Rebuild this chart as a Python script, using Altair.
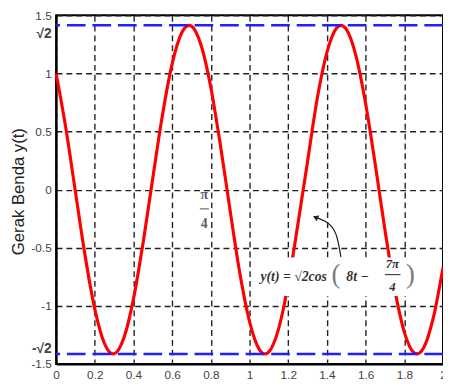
import altair as alt
import pandas as pd

# curve samples
t_vals = [0.0, 0.05, 0.10, 0.15, 0.20, 0.25, 0.2945, 0.30, 0.35, 0.40, 0.45, 0.50,
          0.55, 0.60, 0.65, 0.6872, 0.70, 0.75, 0.80, 0.85, 0.90, 0.95, 1.00, 1.05,
          1.0799, 1.10, 1.15, 1.20, 1.25, 1.30, 1.35, 1.40, 1.45, 1.4726, 1.50, 1.55,
          1.60, 1.65, 1.70, 1.75, 1.80, 1.85, 1.8653, 1.90, 1.95, 2.00]
y_vals = [1.0, 0.532, -0.021, -0.570, -1.029, -1.325, -1.414, -1.413, -1.277, -0.940,
          -0.454, 0.103, 0.644, 1.084, 1.352, 1.414, 1.407, 1.240, 0.877, 0.375,
          -0.185, -0.722, -1.135, -1.374, -1.414, -1.396, -1.198, -0.810, -0.295,
          0.244, 0.787, 1.182, 1.392, 1.414, 1.381, 1.152, 0.741, 0.214, -0.348,
          -0.854, -1.226, -1.404, -1.414, -1.361, -1.102, -0.670]

amp_levels = [1.4142, -1.4142]
x_ticks = [0, 0.2, 0.4, 0.6, 0.8, 1.0, 1.2, 1.4, 1.6, 1.8, 2.0]
y_ticks = [-1.5, -1.4142, -1, -0.5, 0, 0.5, 1, 1.4142, 1.5]

# annotation: formula pieces
f_text = ["y(t) = √2cos", "8t −"]
f_t = [1.056, 1.500]
f_y = [-0.756, -0.756]
paren_text = ["(", ")"]
paren_t = [1.447, 1.832]
paren_y = [-0.740, -0.740]
frac_text = ["7π", "4"]
frac_t = [1.738, 1.738]
frac_y = [-0.640, -0.835]
frac_bar_t = [1.700, 1.780]
frac_bar_y = -0.731
# white box behind the formula
box_t = [1.025, 1.875]
box_y = [-0.585, -0.915]

# pi/4 label
pi_text = ["π", "4"]
pi_t = [0.766, 0.766]
pi_y = [-0.046, -0.292]
pi_bar_t = [0.743, 0.790]
pi_bar_y = -0.165

# arrow path
arr_t = [1.472, 1.447, 1.401, 1.345]
arr_y = [-0.579, -0.385, -0.283, -0.241]

xs = alt.Scale(domain=[0, 2], nice=False, zero=False)
ys = alt.Scale(domain=[-1.5, 1.5], nice=False, zero=False)

curve_df = pd.DataFrame({"t": t_vals, "y": y_vals})

sq = "abs(abs(datum.value)-1.4142)<0.001"
grid_col = "#222222"

x_axis = alt.Axis(values=x_ticks, labelExpr="format(datum.value, '.1~f')",
                  labelOverlap=False, labelFlush=False,
                  grid=True, gridColor=grid_col, gridDash=[6, 4], gridWidth=1.4,
                  ticks=False, domainColor="black", domainWidth=2,
                  labelFont="Liberation Sans", labelFontSize=12,
                  labelColor="#444444", labelPadding=6)
y_axis = alt.Axis(values=y_ticks,
                  labelExpr="abs(datum.value-1.4142)<0.001 ? '√2' : abs(datum.value+1.4142)<0.001 ? '-√2' : replace(format(datum.value, '~g'), '−', '-')",
                  labelOverlap=False, labelFlush=False,
                  grid=True, gridColor=grid_col, gridDash=[6, 4], gridWidth=1.4,
                  gridOpacity={"condition": {"test": sq, "value": 0}, "value": 1},
                  labelFontSize={"condition": {"test": sq, "value": 14}, "value": 12},
                  labelFontWeight={"condition": {"test": sq, "value": "bold"}, "value": "normal"},
                  labelOffset={"condition": [{"test": "datum.value > 1.4 && datum.value < 1.42", "value": 8},
                                             {"test": "datum.value < -1.4 && datum.value > -1.42", "value": -5}],
                               "value": 0},
                  ticks=False, domainColor="black", domainWidth=2,
                  labelFont="Liberation Sans", labelColor="#444444", labelPadding=5,
                  titleFont="Liberation Sans", titleFontSize=17, titleFontWeight="normal",
                  titleColor="#222222", titleX=-38, titleY=179, titleBaseline="middle")

px = alt.X("t:Q", scale=xs, axis=x_axis, title=None)
py = alt.Y("y:Q", scale=ys, axis=y_axis, title="Gerak Benda y(t)")

curve = alt.Chart(curve_df).mark_line(color="#ff0000", strokeWidth=3.2, interpolate="monotone").encode(x=px, y=py)

amp = alt.Chart(pd.DataFrame({"y": amp_levels})).mark_rule(
    color="#1f1fff", strokeWidth=2.5, strokeDash=[19, 7]).encode(y=py)

box = alt.Chart(pd.DataFrame({"t": [box_t[0]], "t2": [box_t[1]], "y": [box_y[0]], "y2": [box_y[1]]})).mark_rect(
    color="white").encode(x=px, x2="t2:Q", y=py, y2="y2:Q")

serif = "Liberation Serif"

ftxt = alt.Chart(pd.DataFrame({"t": f_t, "y": f_y, "s": f_text})).mark_text(
    font=serif, fontSize=14, fontWeight="bold", fontStyle="italic", color="#333333",
    align="left", baseline="middle").encode(x=px, y=py, text="s:N")

ptxt = alt.Chart(pd.DataFrame({"t": paren_t, "y": paren_y, "s": paren_text})).mark_text(
    font=serif, fontSize=27, color="#7a7a7a", align="center", baseline="middle").encode(
    x=px, y=py, text="s:N")

frtxt = alt.Chart(pd.DataFrame({"t": frac_t, "y": frac_y, "s": frac_text})).mark_text(
    font=serif, fontSize=13, fontWeight="bold", fontStyle="italic", color="#333333",
    align="center", baseline="middle").encode(x=px, y=py, text="s:N")

frbar = alt.Chart(pd.DataFrame({"t": [frac_bar_t[0]], "t2": [frac_bar_t[1]], "y": [frac_bar_y]})).mark_rule(
    color="#444444", strokeWidth=1.2).encode(x=px, x2="t2:Q", y=py)

pitxt = alt.Chart(pd.DataFrame({"t": pi_t, "y": pi_y, "s": pi_text})).mark_text(
    font=serif, fontSize=14, fontWeight="bold", color="#5a5a6a",
    align="center", baseline="middle").encode(x=px, y=py, text="s:N")

pibar = alt.Chart(pd.DataFrame({"t": [pi_bar_t[0]], "t2": [pi_bar_t[1]], "y": [pi_bar_y]})).mark_rule(
    color="#888888", strokeWidth=1.5).encode(x=px, x2="t2:Q", y=py)

arr_df = pd.DataFrame({"t": arr_t, "y": arr_y, "o": list(range(len(arr_t)))})
arrow = alt.Chart(arr_df).mark_line(color="#222222", strokeWidth=1.3, interpolate="natural").encode(
    x=px, y=py, order="o:Q")
head = alt.Chart(arr_df.iloc[[-1]]).mark_point(
    shape="triangle", filled=True, color="#222222", size=40, angle=294, opacity=1).encode(
    x=px, y=py)

chart = alt.layer(curve, amp, box, ftxt, ptxt, frtxt, frbar, pitxt, pibar, arrow, head).properties(
    width=394, height=355,
    autosize=alt.AutoSizeParams(type="none"),
    padding={"left": 49, "top": 4, "right": 0, "bottom": 20},
).configure(background="white").configure_view(stroke="black", strokeWidth=2)

chart.save("out.html", embed_options={"renderer": "svg", "actions": False})
